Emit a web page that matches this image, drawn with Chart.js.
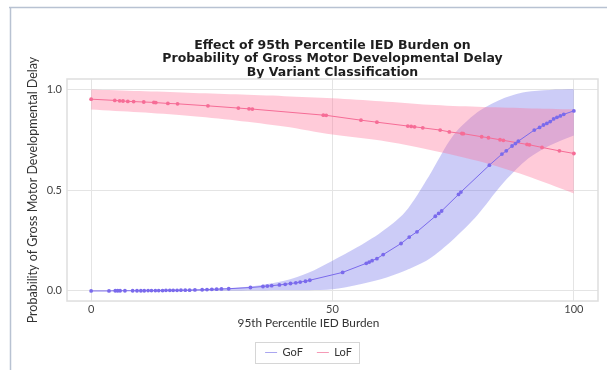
<!DOCTYPE html>
<html>
<head>
<meta charset="utf-8">
<script src="https://cdn.jsdelivr.net/npm/chart.js@4/dist/chart.umd.min.js"></script>
<style>
  html, body { margin: 0; padding: 0; background: #fff; }
</style>
</head>
<body>
<canvas id="delayChart" width="607" height="370"></canvas>
<script>
// fitted probability at each observed 95th percentile IED burden (GoF)
const gofX = [0, 3.7, 5, 5.5, 6, 7, 8.6, 9.5, 10.3, 11, 11.8, 12.5, 13.3, 14, 14.8, 15.5, 16.3, 17, 17.8, 18.6, 19.5, 20.4,
  21.5, 23, 24, 25, 26, 27, 28.5, 33, 35.6, 36.5, 37.4, 39, 40.2, 41.3, 42.4, 43.3, 44.4, 45.3,
  52.1, 57, 57.6, 58.2, 59.2, 60.5, 64.2, 65.9, 67.5, 71.3, 72, 72.6, 76.1, 76.6, 82.5,
  85.1, 86, 87.2, 87.9, 88.5, 91.8, 92.9, 93.7, 94.4, 95.1, 95.8, 96.5, 97.2, 97.9, 100];
const gofY = [0.000, 0.000, 0.001, 0.001, 0.001, 0.001, 0.001, 0.001, 0.001, 0.001, 0.002, 0.002, 0.002, 0.002, 0.002, 0.003, 0.003, 0.003, 0.003, 0.004, 0.004, 0.004,
  0.005, 0.006, 0.007, 0.008, 0.009, 0.010, 0.011, 0.017, 0.022, 0.024, 0.026, 0.030, 0.033, 0.037, 0.040, 0.044, 0.048, 0.053,
  0.092, 0.137, 0.143, 0.150, 0.160, 0.180, 0.235, 0.267, 0.293, 0.370, 0.384, 0.396, 0.478, 0.490, 0.623,
  0.678, 0.694, 0.718, 0.730, 0.742, 0.797, 0.810, 0.822, 0.830, 0.839, 0.852, 0.860, 0.867, 0.875, 0.892];

// 95% confidence band (GoF)
const gofBandX = [0, 10, 20, 30, 35, 40, 45, 50, 55, 60, 65, 70, 75, 80, 85, 90, 95, 100];
const gofUpper = [0.000, 0.001, 0.006, 0.016, 0.028, 0.050, 0.090, 0.150, 0.215, 0.290, 0.390, 0.570, 0.770, 0.885, 0.950, 0.985, 0.996, 0.999];
const gofLower = [0.000, 0.000, 0.000, 0.001, 0.002, 0.003, 0.004, 0.008, 0.030, 0.058, 0.100, 0.158, 0.255, 0.375, 0.525, 0.645, 0.720, 0.770];

// LoF
const lofX = [0, 4.9, 5.9, 6.6, 7.6, 8.8, 10.9, 13, 13.4, 15.9, 17.9, 24.2, 30.5, 32.7, 33.4, 48.1, 48.7, 55.9, 59.2, 65.6,
  66.3, 67, 68.7, 72.3, 74.2, 76.8, 77.1, 80.9, 82.3, 84.7, 85.4, 90.3, 90.8, 93.4, 97, 100];
const lofY = [0.950, 0.944, 0.942, 0.941, 0.939, 0.938, 0.936, 0.934, 0.933, 0.929, 0.927, 0.917, 0.906, 0.902, 0.901, 0.871, 0.870, 0.846, 0.836, 0.817,
  0.815, 0.813, 0.808, 0.797, 0.788, 0.780, 0.779, 0.764, 0.759, 0.749, 0.746, 0.726, 0.724, 0.711, 0.694, 0.681];
const lofBandX = [0, 10, 20, 30, 40, 50, 60, 70, 80, 90, 100];
const lofUpper = [0.998, 0.990, 0.982, 0.974, 0.965, 0.955, 0.940, 0.922, 0.912, 0.905, 0.899];
const lofLower = [0.899, 0.885, 0.868, 0.845, 0.815, 0.775, 0.745, 0.700, 0.645, 0.572, 0.483];

const xTicks = [0, 50, 100];
const yTicks = [0, 0.5, 1];
const seriesNames = ["GoF", "LoF"];
const chartTitle = ["Effect of 95th Percentile IED Burden on", "Probability of Gross Motor Developmental Delay", "By Variant Classification"];
const xTitle = "95th Percentile IED Burden";
const yTitle = "Probability of Gross Motor Developmental Delay";

const GOF = "rgb(122,106,236)";
const LOF = "rgb(246,108,150)";
const FONT = "Lato";

const toPoints = (xs, ys) => xs.map((x, i) => ({ x, y: ys[i] }));

// thin frame of the original slide + box round the plot + box round the legend
const decorations = {
  id: "decorations",
  beforeDraw(chart) {
    const { ctx } = chart;
    ctx.save();
    ctx.fillStyle = "#fff";
    ctx.fillRect(0, 0, chart.width, chart.height);
    ctx.strokeStyle = "#b8c2d2";
    ctx.lineWidth = 1.5;
    ctx.beginPath();
    ctx.moveTo(9, 7.5);
    ctx.lineTo(chart.width, 7.5);
    ctx.moveTo(10.5, 7);
    ctx.lineTo(10.5, chart.height);
    ctx.stroke();
    ctx.restore();
  },
  beforeDatasetsDraw(chart) {
    const { ctx, chartArea: a } = chart;
    ctx.save();
    ctx.strokeStyle = "#dedede";
    ctx.lineWidth = 1.5;
    ctx.strokeRect(a.left, a.top, a.right - a.left, a.bottom - a.top);
    ctx.restore();
  },
  afterDraw(chart) {
    const boxes = chart.legend.legendHitBoxes;
    if (!boxes || !boxes.length) return;
    const left = Math.min(...boxes.map(b => b.left)) - 10;
    const right = Math.max(...boxes.map(b => b.left + b.width)) + 7;
    const top = boxes[0].top - 5;
    const bottom = boxes[0].top + boxes[0].height + 5;
    const { ctx } = chart;
    ctx.save();
    ctx.strokeStyle = "#d6d6d6";
    ctx.lineWidth = 1;
    ctx.strokeRect(Math.round(left) + 0.5, Math.round(top) + 0.5, Math.round(right - left), Math.round(bottom - top));
    ctx.restore();
  }
};

new Chart(document.getElementById("delayChart"), {
  type: "line",
  data: {
    datasets: [
      {
        label: seriesNames[0],
        data: toPoints(gofX, gofY),
        borderColor: GOF,
        borderWidth: 1,
        pointRadius: 1.9,
        pointBorderWidth: 0,
        pointBackgroundColor: GOF,
        fill: false,
        order: 0,
      },
      {
        label: seriesNames[1],
        data: toPoints(lofX, lofY),
        borderColor: LOF,
        borderWidth: 1,
        pointRadius: 1.9,
        pointBorderWidth: 0,
        pointBackgroundColor: LOF,
        fill: false,
        order: 1,
      },
      {
        data: toPoints(gofBandX, gofUpper),
        borderWidth: 0,
        pointRadius: 0,
        tension: 0.3,
        backgroundColor: "rgba(110,110,232,0.35)",
        fill: "+1",
        order: 3,
      },
      {
        data: toPoints(gofBandX, gofLower),
        borderWidth: 0,
        pointRadius: 0,
        tension: 0.3,
        fill: false,
        order: 3,
      },
      {
        data: toPoints(lofBandX, lofUpper),
        borderWidth: 0,
        pointRadius: 0,
        tension: 0.3,
        backgroundColor: "rgba(255,110,150,0.36)",
        fill: "+1",
        order: 2,
      },
      {
        data: toPoints(lofBandX, lofLower),
        borderWidth: 0,
        pointRadius: 0,
        tension: 0.3,
        fill: false,
        order: 2,
      },
    ],
  },
  options: {
    responsive: false,
    animation: false,
    layout: { padding: { left: 19, right: 9, top: 0, bottom: 2 } },
    plugins: {
      title: {
        display: true,
        text: chartTitle,
        fullSize: false,
        color: "#1e1e1e",
        font: { family: "DejaVu Sans", size: 12.5, weight: "bold", lineHeight: 1.08 },
        padding: { top: 38.5, bottom: 0 },
      },
      subtitle: {
        display: true,
        text: xTitle,
        position: "bottom",
        weight: 500,
        color: "#333",
        font: { family: FONT, size: 11.8, weight: "normal", lineHeight: 1.2 },
        padding: { top: 0.5, bottom: 2.3 },
      },
      legend: {
        position: "bottom",
        labels: {
          filter: item => seriesNames.includes(item.text),
          usePointStyle: true,
          pointStyle: "line",
          pointStyleWidth: 12,
          boxHeight: 11,
          padding: 14,
          color: "#333",
          font: { family: FONT, size: 11 },
          generateLabels: chart => Chart.defaults.plugins.legend.labels.generateLabels(chart)
            .map(item => ({ ...item, lineWidth: 1, strokeStyle: item.datasetIndex === 0 ? "#aaa6f0" : "#f59ab6" })),
        },
      },
      tooltip: { enabled: false },
    },
    scales: {
      x: {
        type: "linear",
        min: -5,
        max: 105,
        afterBuildTicks: s => { s.ticks = xTicks.map(v => ({ value: v })); },
        afterFit: s => { s.height = 15; },
        grid: { color: "#e4e4e4", borderDash: [1, 2], drawTicks: false },
        border: { display: false },
        ticks: { padding: 2, color: "#444", font: { family: FONT, size: 11 } },
      },
      y: {
        min: -0.05,
        max: 1.05,
        afterBuildTicks: s => { s.ticks = yTicks.map(v => ({ value: v })); },
        afterFit: s => { s.width = 48; },
        grid: { color: "#e4e4e4", borderDash: [1, 2], drawTicks: false },
        border: { display: false },
        ticks: { padding: 5, color: "#444", font: { family: FONT, size: 11 }, callback: v => v.toFixed(1) },
        title: {
          display: true,
          text: yTitle,
          color: "#333",
          font: { family: FONT, size: 12.5 },
          padding: { top: 6, bottom: 0 },
        },
      },
    },
  },
  plugins: [decorations],
});
</script>
</body>
</html>
